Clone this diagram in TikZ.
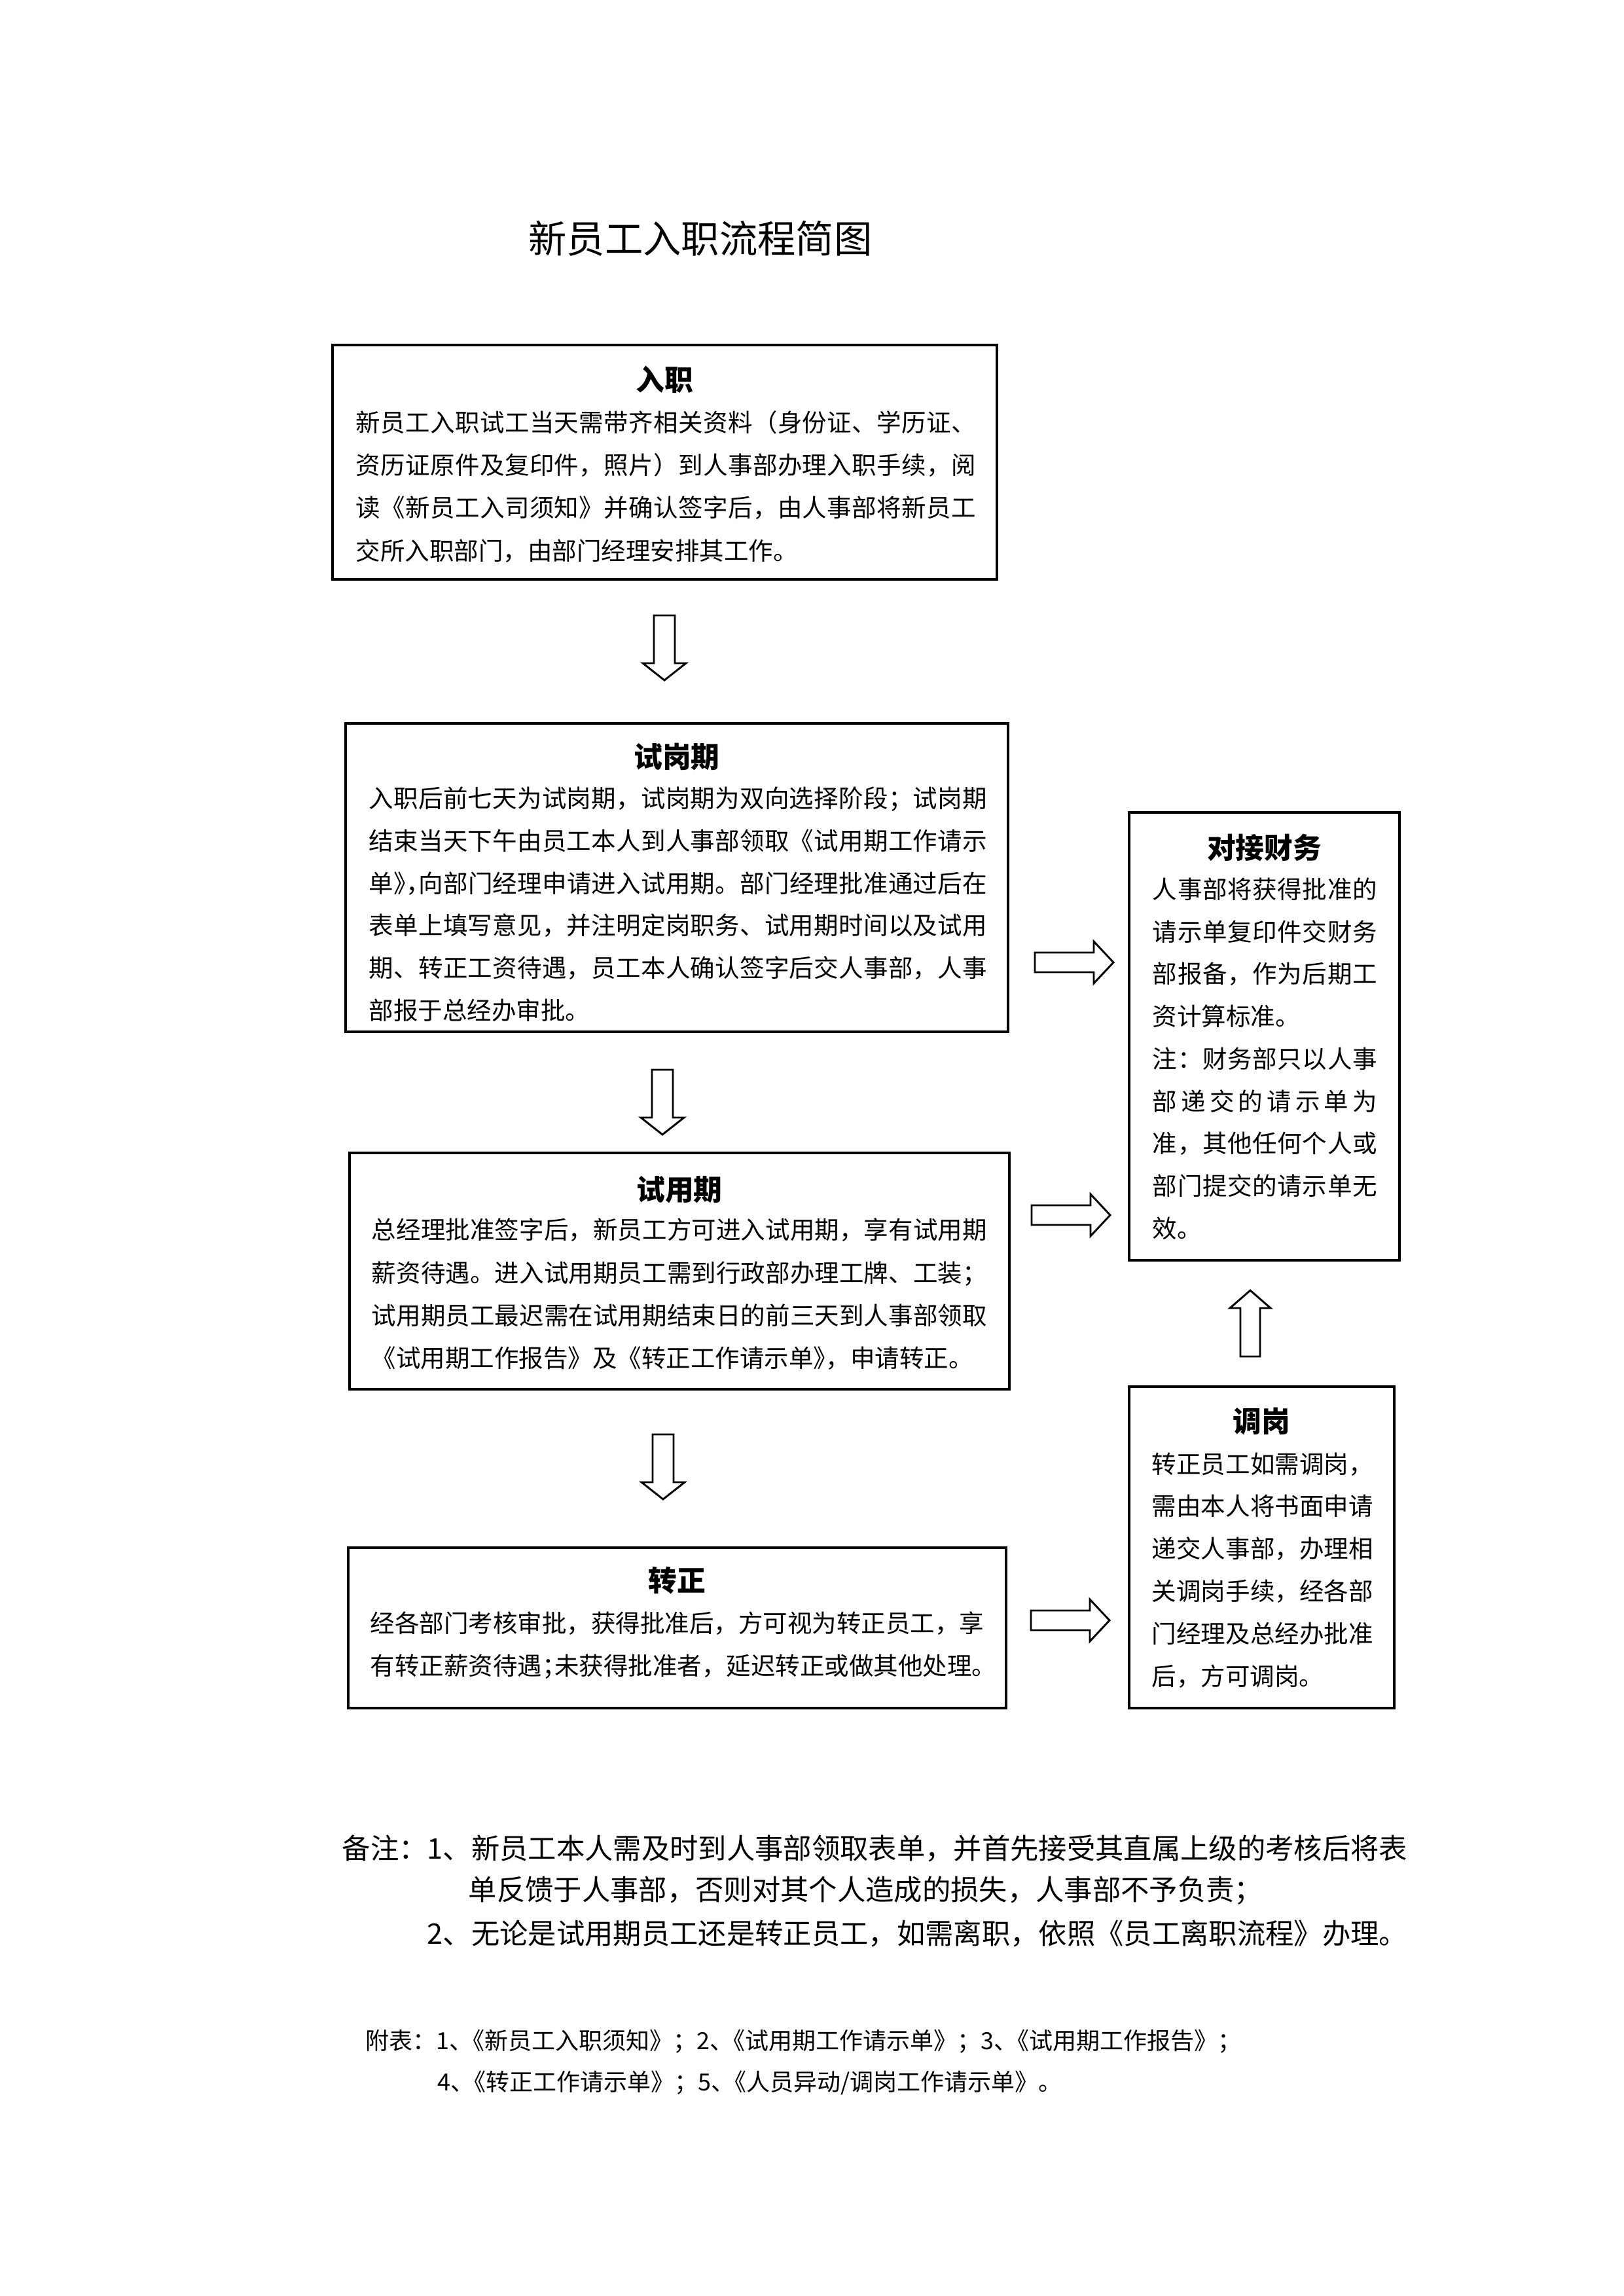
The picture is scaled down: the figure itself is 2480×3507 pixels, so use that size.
\documentclass[tikz,border=0pt]{standalone}
\usepackage{fontspec}
\setmainfont{Noto Sans CJK SC}
\usetikzlibrary{fit}
\newdimen\pxu \pxu=0.24pt
\def\jlend{JLEND}
\def\jlA#1{#1\jlB}
\def\jlB#1{\ifx#1\jlend\else\hfil#1\expandafter\jlB\fi}
\newcommand\jline[2]{\makebox[#1\pxu][s]{\jlA#2\jlend}}
\newcommand\hp[1]{{\addfontfeature{RawFeature=+halt}#1}}
\newcommand\blkdown[1]{\draw[blk] (#1) ++(-16,0) -- ++(32,0) -- ++(0,73) -- ++(17,0) -- ++(-33,26) -- ++(-33,-26) -- ++(17,0) -- cycle;}
\newcommand\blkright[1]{\draw[blk] (#1) ++(0,-15) -- ++(90,0) -- ++(0,-17) -- ++(30,32) -- ++(-30,32) -- ++(0,-17) -- ++(-90,0) -- cycle;}
\newcommand\blkup[1]{\draw[blk] (#1) ++(-15,0) -- ++(0,-74) -- ++(-16,0) -- ++(31,-27) -- ++(31,27) -- ++(-16,0) -- ++(0,74) -- cycle;}
\tikzset{
  box/.style={draw, line width=0.9pt, inner sep=0pt},
  body/.style={font=\fontsize{9}{11}\selectfont, inner sep=0pt, anchor=base west},
  head/.style={font=\fontsize{10.5}{12}\selectfont\bfseries, inner sep=0pt, anchor=base},
  note/.style={font=\fontsize{10.4}{12}\selectfont, inner sep=0pt, anchor=base west},
  foot/.style={font=\fontsize{8.64}{10}\selectfont, inner sep=0pt, anchor=base west},
  blk/.style={draw, line width=0.7pt, fill=white, line join=miter},
}
\begin{document}
\begin{tikzpicture}[x=0.24pt,y=-0.24pt]
\useasboundingbox (0,0) rectangle (2480,3507);

% title
\node[font=\fontsize{14}{16}\selectfont, inner sep=0pt, anchor=base] (title) at (1070,387) {新员工入职流程简图};

% box 1 入职
\node[box, fit={(508,527) (1523,885)}] (ruzhi) {};
\node[head] (ruzhiT) at (1015.5,597) {入职};
\node[body] (r1) at (543,660) {\jline{947}{新员工入职试工当天需带齐相关资料（身份证、学历证、}};
\node[body] (r2) at (543,725) {\jline{947}{资历证原件及复印件，照片）到人事部办理入职手续，阅}};
\node[body] (r3) at (543,790) {\jline{947}{读《新员工入司须知》并确认签字后，由人事部将新员工}};
\node[body] (r4) at (543,856) {交所入职部门，由部门经理安排其工作。};

% box 2 试岗期
\node[box, fit={(528,1105) (1540,1576)}] (shigang) {};
\node[head] (shigangT) at (1034,1173) {试岗期};
\node[body] (s1) at (563,1233) {\jline{944}{入职后前七天为试岗期，试岗期为双向选择阶段；试岗期}};
\node[body] (s2) at (563,1298) {\jline{944}{结束当天下午由员工本人到人事部领取《试用期工作请示}};
\node[body] (s3) at (563,1363) {\jline{944}{单{\hp{》}}{\hp{，}}向部门经理申请进入试用期。部门经理批准通过后在}};
\node[body] (s4) at (563,1427) {\jline{944}{表单上填写意见，并注明定岗职务、试用期时间以及试用}};
\node[body] (s5) at (563,1492) {\jline{944}{期、转正工资待遇，员工本人确认签字后交人事部，人事}};
\node[body] (s6) at (563,1557) {部报于总经办审批。};

% box 3 试用期
\node[box, fit={(534,1761) (1542,2122)}] (shiyong) {};
\node[head] (shiyongT) at (1038,1833) {试用期};
\node[body] (y1) at (567,1892) {\jline{940}{总经理批准签字后，新员工方可进入试用期，享有试用期}};
\node[body] (y2) at (567,1958) {\jline{940}{薪资待遇。进入试用期员工需到行政部办理工牌、工装；}};
\node[body] (y3) at (567,2023) {\jline{940}{试用期员工最迟需在试用期结束日的前三天到人事部领取}};
\node[body] (y4) at (567,2088) {《试用期工作报告》及《转正工作请示单\hp{》}，申请转正。};

% box 4 转正
\node[box, fit={(532,2364) (1537,2609)}] (zhuanzheng) {};
\node[head] (zhuanzhengT) at (1034.5,2430) {转正};
\node[body] (z1) at (565,2493) {\jline{937}{经各部门考核审批，获得批准后，方可视为转正员工，享}};
\node[body] (z2) at (565,2558) {有转正薪资待遇\hp{；}未获得批准者，延迟转正或做其他处理。};

% box 5 对接财务
\node[box, fit={(1725,1241) (2138,1925)}] (caiwu) {};
\node[head] (caiwuT) at (1931.5,1311) {对接财务};
\node[body] (c1) at (1760,1372) {\jline{343}{人事部将获得批准的}};
\node[body] (c2) at (1760,1437) {\jline{343}{请示单复印件交财务}};
\node[body] (c3) at (1760,1501) {\jline{343}{部报备，作为后期工}};
\node[body] (c4) at (1760,1566) {资计算标准。};
\node[body] (c5) at (1760,1631) {\jline{343}{注：财务部只以人事}};
\node[body] (c6) at (1760,1696) {\jline{343}{部递交的请示单为}};
\node[body] (c7) at (1760,1760) {\jline{343}{准，其他任何个人或}};
\node[body] (c8) at (1760,1825) {\jline{343}{部门提交的请示单无}};
\node[body] (c9) at (1760,1890) {效。};

% box 6 调岗
\node[box, fit={(1725,2118) (2130,2609)}] (tiaogang) {};
\node[head] (tiaogangT) at (1927.5,2187) {调岗};
\node[body] (t1) at (1759,2250) {\jline{338}{转正员工如需调岗，}};
\node[body] (t2) at (1759,2314) {\jline{338}{需由本人将书面申请}};
\node[body] (t3) at (1759,2379) {\jline{338}{递交人事部，办理相}};
\node[body] (t4) at (1759,2444) {\jline{338}{关调岗手续，经各部}};
\node[body] (t5) at (1759,2509) {\jline{338}{门经理及总经办批准}};
\node[body] (t6) at (1759,2574) {后，方可调岗。};

% block arrows
\coordinate (d1) at (1015,940);
\coordinate (d2) at (1012,1634);
\coordinate (d3) at (1013,2191);
\coordinate (h1) at (1581,1470);
\coordinate (h2) at (1576,1856);
\coordinate (h3) at (1575,2475);
\coordinate (u1) at (1910,2072);
\blkdown{d1}
\blkdown{d2}
\blkdown{d3}
\blkright{h1}
\blkright{h2}
\blkright{h3}
\blkup{u1}

% notes
\node[note] (n1) at (522,2839) {备注：1、新员工本人需及时到人事部领取表单，并首先接受其直属上级的考核后将表};
\node[note] (n2) at (715,2902) {单反馈于人事部，否则对其个人造成的损失，人事部不予负责；};
\node[note] (n3) at (652,2969) {2、无论是试用期员工还是转正员工，如需离职，依照《员工离职流程》办理。};

% attachments
\node[foot] (f1) at (558,3130) {附表：1\hp{、}《新员工入职须知》；2\hp{、}《试用期工作请示单》；3\hp{、}《试用期工作报告》；};
\node[foot] (f2) at (668,3193) {4\hp{、}《转正工作请示单》；5\hp{、}《人员异动/调岗工作请示单》。};
\end{tikzpicture}
\end{document}
